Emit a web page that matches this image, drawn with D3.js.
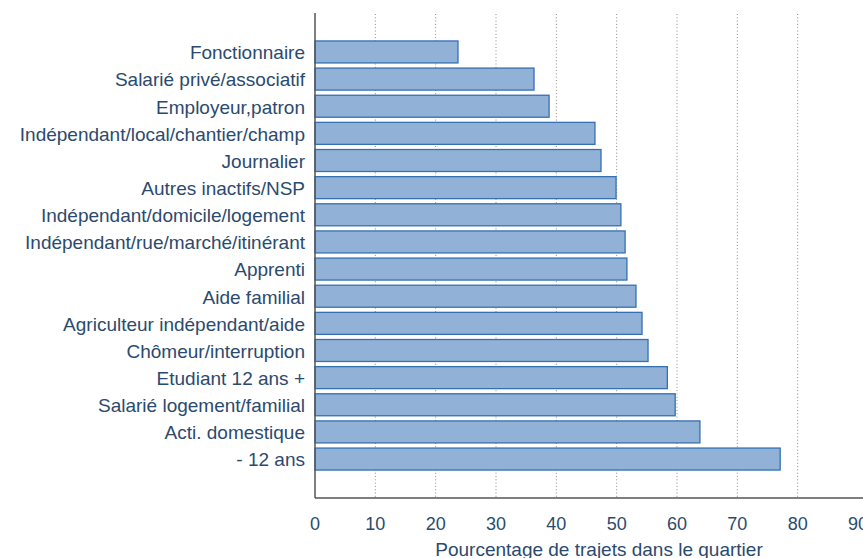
<!DOCTYPE html>
<html lang="fr">
<head>
<meta charset="UTF-8">
<title>Trajets dans le quartier</title>
<style>
  body { margin: 0; background: #fff; }
  text { font-family: "Liberation Sans", Arial, sans-serif; fill: #2b4a6e; }
</style>
</head>
<body>
<div id="chart"></div>
<script src="https://d3js.org/d3.v7.min.js"></script>
<script>
// categories, top to bottom
var categories = [
  "Fonctionnaire",
  "Salarié privé/associatif",
  "Employeur,patron",
  "Indépendant/local/chantier/champ",
  "Journalier",
  "Autres inactifs/NSP",
  "Indépendant/domicile/logement",
  "Indépendant/rue/marché/itinérant",
  "Apprenti",
  "Aide familial",
  "Agriculteur indépendant/aide",
  "Chômeur/interruption",
  "Etudiant 12 ans +",
  "Salarié logement/familial",
  "Acti. domestique",
  "- 12 ans"
];
// % de trajets dans le quartier
var values = [23.7, 36.3, 38.8, 46.4, 47.4, 49.9, 50.7, 51.4, 51.7, 53.2, 54.2, 55.2, 58.4, 59.7, 63.8, 77.1];
var xTicks = [0, 10, 20, 30, 40, 50, 60, 70, 80, 90];
var gridTicks = [10, 20, 30, 40, 50, 60, 70, 80];
var xTitle = "Pourcentage de trajets dans le quartier";

var W = 863, H = 558;
var mLeft = 315, mRight = 858, mTop = 13, mBottom = 498;

var svg = d3.select("#chart").append("svg")
  .attr("width", W)
  .attr("height", H);

var x = d3.scaleLinear().domain([0, 90]).range([mLeft, mRight]);
var y = d3.scaleBand().domain(categories).range([mTop, mBottom])
  .paddingInner(0.19).paddingOuter(1.03);

// grille pointillée
svg.append("g").selectAll("line")
  .data(gridTicks)
  .join("line")
  .attr("x1", d => x(d)).attr("x2", d => x(d))
  .attr("y1", mTop + 1).attr("y2", mBottom)
  .attr("stroke", "#8a8a8a")
  .attr("stroke-width", 1)
  .attr("stroke-dasharray", "1,2.3");

// barres
svg.append("g").selectAll("rect")
  .data(values)
  .join("rect")
  .attr("x", x(0))
  .attr("y", (d, i) => y(categories[i]))
  .attr("width", d => x(d) - x(0))
  .attr("height", y.bandwidth())
  .attr("fill", "#91b2d6")
  .attr("stroke", "#3470b2")
  .attr("stroke-width", 1.3);

// axes
svg.append("line")
  .attr("x1", mLeft).attr("x2", mLeft)
  .attr("y1", mTop).attr("y2", mBottom)
  .attr("stroke", "#555").attr("stroke-width", 1.5);
svg.append("line")
  .attr("x1", mLeft).attr("x2", W)
  .attr("y1", mBottom).attr("y2", mBottom)
  .attr("stroke", "#555").attr("stroke-width", 1.5);

// étiquettes des catégories
svg.append("g").selectAll("text")
  .data(categories)
  .join("text")
  .attr("x", mLeft - 10)
  .attr("y", d => y(d) + y.bandwidth() / 2 + 0.5)
  .attr("dy", "0.36em")
  .attr("text-anchor", "end")
  .style("font-size", "19px")
  .text(d => d);

// étiquettes de l'axe x
svg.append("g").selectAll("text")
  .data(xTicks)
  .join("text")
  .attr("x", d => x(d))
  .attr("y", 530)
  .attr("text-anchor", "middle")
  .style("font-size", "18px")
  .text(d => d);

svg.append("text")
  .attr("x", 599)
  .attr("y", 556)
  .attr("text-anchor", "middle")
  .style("font-size", "19px")
  .text(xTitle);
</script>
</body>
</html>
